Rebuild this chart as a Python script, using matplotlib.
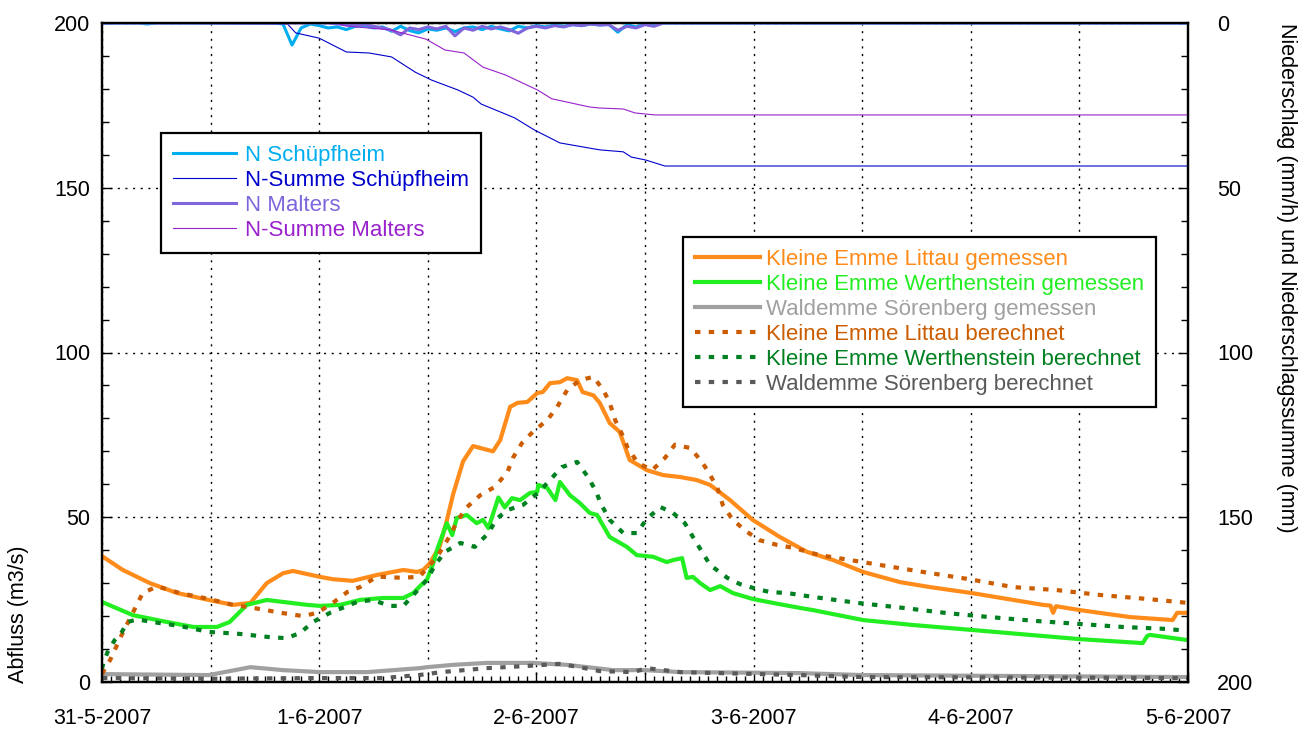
import numpy as np
import matplotlib
matplotlib.use("Agg")
import matplotlib.pyplot as plt
from matplotlib.ticker import MultipleLocator, FixedLocator

plt.rcParams['font.family'] = ['Liberation Sans', 'DejaVu Sans']

# ---------------------------------------------------------------------------
# data (time in hours since 31-5-2007 00:00)
# ---------------------------------------------------------------------------
day_labels = ['31-5-2007', '1-6-2007', '2-6-2007', '3-6-2007', '4-6-2007', '5-6-2007']

# discharge (m3/s)
littau_mess_t = [0, 2.3, 5.3, 8.3, 11.8, 14.5, 16.4, 18.2, 20.0, 21.1, 24.1, 25.5, 27.7, 30.4,
                 33.3, 34.8, 35.5, 36.2, 37.3, 38.1, 38.8, 39.9, 41.0, 43.2, 44.0, 45.1, 45.9,
                 47.0, 48.1, 48.7, 49.5, 50.6, 51.4, 52.5, 53.1, 54.3, 55.0, 56.1, 57.2, 58.3,
                 60.2, 62.0, 63.9, 65.7, 67.2, 69.4, 71.9, 74.9, 77.1, 77.9, 80.8, 84.1, 88.2,
                 91.5, 96.1, 100.7, 104.0, 104.8, 105.1, 105.4, 108.1, 113.6, 118.3, 118.8, 120]
littau_mess_q = [38.2, 34, 30, 27, 24.9, 23.4, 24, 30, 33, 33.7, 31.9, 31.2, 30.7, 32.5,
                 34, 33.4, 34, 36, 41, 49, 57, 67, 71.6, 70, 73.4, 83.5, 84.7,
                 85, 87.7, 88, 90.7, 91, 92.2, 91.6, 88, 87, 84.7, 78.6, 75.9, 67.4,
                 64.3, 62.8, 62.2, 61.3, 59.8, 55.2, 49.2, 44, 40.7, 39.5, 37, 33.4, 30.3,
                 28.8, 27, 24.9, 23.4, 23.2, 21.0, 23.0, 21.8, 19.7, 18.8, 21, 21]

werth_mess_t = [0, 3.4, 7.2, 10.1, 12.7, 14.1, 16.0, 18.2, 20.0, 22.7, 24.1, 26.3, 28.5, 31.0,
                33.3, 34.4, 35.1, 35.9, 36.6, 37.1, 38.1, 38.7, 39.2, 40.3, 41.4, 42.1, 42.7,
                43.8, 44.5, 45.3, 46.2, 47.3, 48.1, 48.2, 49.2, 50.1, 50.6, 51.7, 52.8, 53.9,
                54.7, 56.1, 58.0, 59.1, 60.9, 62.4, 63.1, 64.1, 64.6, 65.3, 66.1, 67.2, 68.3,
                69.7, 71.9, 74.9, 77.1, 78.6, 84.1, 89.6, 96.1, 102.5, 108.1, 115.0, 115.5,
                115.8, 120]
werth_mess_q = [24.3, 20.3, 18.2, 16.7, 16.7, 18.2, 23.4, 24.9, 24.3, 23.4, 23.1, 23.4, 24.9, 25.5,
                25.5, 27, 29, 31, 36, 40.7, 48.2, 44.6, 49.8, 50.7, 48.2, 49.2, 46.7,
                56, 53, 55.8, 55.2, 57.4, 57.7, 59.8, 58.9, 55.2, 60.7, 56.7, 54.3, 51.3,
                50.7, 44, 41, 38.5, 38, 36.4, 37, 37.6, 31.6, 31.9, 30, 27.9, 29.1,
                27, 25.2, 23.6, 22.5, 21.8, 18.8, 17.3, 15.8, 14.3, 13, 11.8, 14.0,
                14.3, 12.7]

wald_mess_t = [0, 11.8, 16.4, 20.0, 24.1, 29.3, 35.1, 35.9, 38.8, 42.5, 47.6, 51.4, 56.5,
               60.0, 63.9, 77.1, 84.1, 120]
wald_mess_q = [2.4, 2.1, 4.5, 3.6, 3.0, 3.0, 4.2, 4.5, 5.2, 5.8, 5.8, 5.2, 3.6,
               3.6, 3.0, 2.7, 2.1, 1.5]

littau_ber_t = [0, 0.9, 2.3, 3.4, 4.5, 6.1, 8.6, 11.8, 14.5, 16.7, 20.0, 22.2, 23.8, 25.5,
                27.1, 28.5, 30.4, 33.3, 35.1, 37.0, 38.5, 39.2, 40.3, 41.8, 43.4, 44.8, 45.4,
                46.4, 47.6, 49.2, 50.3, 51.4, 52.8, 54.3, 55.4, 56.1, 56.7, 57.5, 58.1, 59.2,
                60.8, 62.2, 63.3, 65.0, 66.3, 67.2, 68.0, 68.6, 69.7, 71.3, 72.7, 74.6, 76.4,
                79.3, 82.7, 86.0, 90.7, 95.6, 100.7, 105.5, 110.3, 115.5, 120]
littau_ber_q = [2.5, 6.7, 15, 21, 27, 29, 27, 25.2, 23.4, 22.5, 20.9, 20, 21, 24,
                27.3, 28.8, 32, 31.6, 32, 37.9, 44.6, 48.6, 53, 56.7, 59.2, 63.7, 68,
                72.5, 75.9, 79.5, 83.5, 88.6, 91.6, 92.6, 88.6, 84.7, 79.5, 75, 71, 66.5,
                64.3, 68, 72, 71, 66.8, 62.8, 58.9, 53.7, 49.2, 45.5, 43, 41.6, 40.7,
                38.5, 37, 35.5, 33.4, 31.3, 28.8, 27.9, 26.4, 25.2, 24]

werth_ber_t = [0, 0.1, 0.6, 1.4, 2.2, 2.8, 3.9, 5.6, 8.6, 11.8, 15.2, 18.6, 20.4, 21.9, 23.3,
               25.2, 28.2, 29.9, 31.8, 33.3, 34.6, 35.9, 36.8, 37.9, 39.6, 41.2, 42.7, 43.6,
               44.8, 46.5, 48.2, 49.5, 50.8, 52.5, 53.7, 54.5, 55.2, 56.1, 57.6, 59.1, 60.2,
               61.7, 63.1, 64.4, 65.3, 66.3, 67.2, 69.1, 70.5, 72.4, 73.8, 75.7, 78.6, 83.5,
               88.5, 93.4, 98.1, 103.3, 108.1, 112.8, 117.7, 120]
werth_ber_q = [4, 5.2, 9, 12.7, 15.2, 18.2, 19, 18.2, 17, 15.2, 14.6, 13.6, 13.3, 14.9, 18.2,
               21, 24.3, 24.9, 23.1, 23.1, 27, 31, 35.5, 39.5, 42.2, 41, 45.2, 49.5,
               52.2, 53.7, 57.4, 61.3, 65.2, 66.8, 62.2, 58.3, 53.7, 49.2, 45.2, 45.2, 49.5,
               53.1, 51.3, 48.2, 44, 39.5, 35.5, 31.6, 29.7, 28.2, 27.3, 27, 25.8, 24,
               22.5, 20.9, 19.7, 18.5, 17.6, 16.7, 16.1, 15.5]

wald_ber_t = [0, 12, 24, 31, 35, 37.5, 42.5, 47.2, 50.5, 52.8, 55, 58.7, 60.2, 63.9, 77.1, 84, 120]
wald_ber_q = [1.2, 1.0, 1.2, 1.2, 2.1, 3.0, 4.2, 4.9, 5.5, 4.5, 3.3, 3.0, 4.2, 3.0, 2.1, 1.5, 1.2]

# precipitation (mm/h), hourly, hours 0..120
rain_hours = np.arange(0, 121)
n_schuepfheim = ([0] * 5 + [0.3] + [0] * 14 +
                 [0.3, 6.7, 1.5, 0.3, 0.8, 1.5, 1.2, 2.0, 1.0, 0.8, 1.5, 1.2, 2.5, 1.0, 2.3,
                  3.0, 1.8, 2.2, 1.5, 2.6, 1.5, 1.2, 2.0, 1.0, 1.8, 2.4, 1.0, 1.5, 0.8, 1.2,
                  0.6, 1.0, 0.5, 0.8, 0.3, 0.6, 0.4, 2.8, 0.5, 1.2, 0.3, 0.8] +
                 [0] * 59)
n_malters = ([0] * 26 +
             [0.3, 0.5, 0.8, 0.5, 1.0, 1.5, 2.2, 3.6, 1.5, 2.0, 1.2, 1.8, 1.0, 3.9, 1.5,
              2.2, 1.0, 1.8, 1.2, 2.0, 3.1, 1.5, 1.0, 1.5, 0.8, 1.2, 0.5, 0.8, 0.3, 0.6,
              0.5, 2.2, 1.0, 1.5, 0.5, 1.0] +
             [0] * 59)

# precipitation sums (mm)
sum_schuepf_t = [0, 20.5, 21.4, 24.0, 27.0, 29.5, 32.0, 34.6, 36.4, 39.3, 41.0, 41.9, 45.6,
                 47.8, 50.6, 55.0, 57.6, 58.5, 60.1, 62.2, 120]
sum_schuepf_v = [0, 0.3, 3.0, 4.6, 8.8, 9.1, 10.3, 14.9, 17.3, 20.3, 22.5, 24.6, 28.8,
                 32.5, 36.4, 38.5, 39.1, 40.7, 41.6, 43.4, 43.4]
sum_malters_t = [0, 26.0, 26.9, 31.9, 35.8, 37.9, 40.0, 42.1, 44.6, 48.1, 49.7, 53.9, 55.0,
                 57.6, 58.9, 61.1, 120]
sum_malters_v = [0, 0, 0.9, 2.1, 4.9, 8.2, 9.1, 13.4, 15.8, 20.3, 23.0, 25.5, 25.8,
                 26.1, 27.3, 27.9, 27.9]

# ---------------------------------------------------------------------------
# plot
# ---------------------------------------------------------------------------
fs = 15.5      # tick labels / axis labels
fs_leg = 16    # legend text
fig = plt.figure(figsize=(13.03, 7.36), dpi=100)
ax = fig.add_axes([102 / 1303, 1 - 682 / 736, 1086 / 1303, 659 / 736])

dot = (0, (1.3, 2.0))
lw_q = 3.0
ax.plot(littau_mess_t, littau_mess_q, color='#ff8c1a', lw=lw_q, label='Kleine Emme Littau gemessen')
ax.plot(werth_mess_t, werth_mess_q, color='#22ee22', lw=lw_q, label='Kleine Emme Werthenstein gemessen')
ax.plot(wald_mess_t, wald_mess_q, color='#a0a0a0', lw=lw_q, label='Waldemme Sörenberg gemessen')
ax.plot(littau_ber_t, littau_ber_q, color='#cc5c00', lw=lw_q, ls=dot, label='Kleine Emme Littau berechnet')
ax.plot(werth_ber_t, werth_ber_q, color='#008020', lw=lw_q, ls=dot, label='Kleine Emme Werthenstein berechnet')
ax.plot(wald_ber_t, wald_ber_q, color='#5a5a5a', lw=lw_q, ls=dot, label='Waldemme Sörenberg berechnet')

ax.set_xlim(0, 120)
ax.set_ylim(0, 200)
ax.xaxis.set_major_locator(FixedLocator(np.arange(0, 121, 12)))
ax.set_xticklabels([day_labels[i // 2] if i % 2 == 0 else '' for i in range(11)])
ax.xaxis.set_minor_locator(MultipleLocator(1))
ax.yaxis.set_major_locator(MultipleLocator(50))
ax.yaxis.set_minor_locator(MultipleLocator(10))
ax.grid(True, which='major', color='black', lw=1.0, ls=(0, (1.5, 4)))
ax.tick_params(axis='x', which='major', direction='in', length=7, width=1, labelsize=fs, pad=19)
ax.tick_params(axis='x', which='minor', direction='in', length=4, width=1)
ax.tick_params(axis='y', which='major', direction='in', length=7, width=1, labelsize=fs, pad=8.5)
ax.tick_params(axis='y', which='minor', direction='in', length=5, width=1)
for sp in ax.spines.values():
    sp.set_linewidth(1.6)

ax2 = ax.twinx()
ax2.plot(rain_hours, n_schuepfheim, color='#00aeef', lw=2.2, label='N Schüpfheim')
ax2.plot(sum_schuepf_t, sum_schuepf_v, color='#0000cc', lw=0.8, label='N-Summe Schüpfheim')
ax2.plot(rain_hours, n_malters, color='#8066dd', lw=2.2, label='N Malters')
ax2.plot(sum_malters_t, sum_malters_v, color='#9922cc', lw=0.8, label='N-Summe Malters')
ax2.set_ylim(200, 0)
ax2.yaxis.set_major_locator(MultipleLocator(50))
ax2.yaxis.set_minor_locator(MultipleLocator(10))
ax2.tick_params(axis='y', which='major', direction='in', length=7, width=1, labelsize=fs, pad=21)
ax2.tick_params(axis='y', which='minor', direction='in', length=5, width=1)
for sp in ax2.spines.values():
    sp.set_linewidth(1.6)

# legends
leg2 = ax.legend(loc='upper left', bbox_to_anchor=((683 - 102) / 1086, (682 - 237) / 659),
                 fontsize=fs_leg, frameon=True, fancybox=False, edgecolor='black', framealpha=1,
                 handlelength=2.9, handletextpad=0.27, labelspacing=0.18, borderpad=0.55,
                 borderaxespad=0)
leg2.get_frame().set_linewidth(1.6)
for txt, ln in zip(leg2.get_texts(), leg2.get_lines()):
    txt.set_color(ln.get_color())

leg1 = ax2.legend(loc='upper left', bbox_to_anchor=((161 - 102) / 1086, (682 - 133) / 659),
                  fontsize=fs_leg, frameon=True, fancybox=False, edgecolor='black', framealpha=1,
                  handlelength=2.84, handletextpad=0.4, labelspacing=0.18, borderpad=0.55,
                  borderaxespad=0)
leg1.get_frame().set_linewidth(1.6)
for txt, ln in zip(leg1.get_texts(), leg1.get_lines()):
    txt.set_color(ln.get_color())

fig.text(19 / 1303, 1 - 683 / 736, 'Abfluss (m3/s)', rotation=90, ha='center', va='bottom', fontsize=fs)
fig.text(1287 / 1303, 1 - 23 / 736, 'Niederschlag (mm/h) und Niederschlagssumme (mm)',
         rotation=270, ha='center', va='top', fontsize=fs)

fig.savefig('out.png', dpi=100)
